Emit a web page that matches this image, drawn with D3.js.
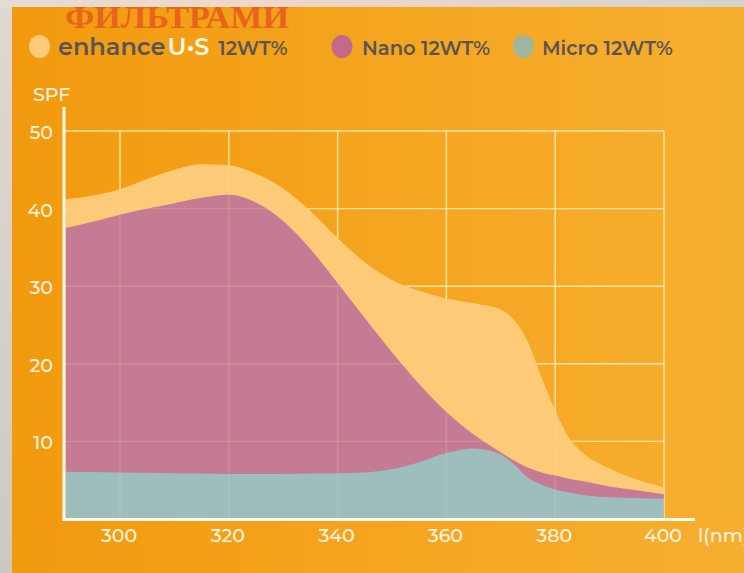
<!DOCTYPE html>
<html><head><meta charset="utf-8">
<script src="https://cdn.jsdelivr.net/npm/d3@7"></script>
<style>html,body{margin:0;padding:0;overflow:hidden;background:#d2cdc7}</style>
</head><body>
<svg id="c" width="744" height="573"></svg>
<script>
const wavelengths = [290,295,300,305,310,315,320,325,330,335,340,345,350,355,360,365,370,372.5,375,377.5,380,382.5,385,390,395,400];
const enhanceSPF = [41.2,41.7,42.5,43.8,45.0,45.7,45.6,44.5,42.6,39.7,36.2,33.1,30.8,29.4,28.4,27.8,27.0,25.6,22.8,18.2,14.0,10.5,8.6,6.5,5.1,4.1];
const nanoSPF    = [37.5,38.3,39.2,40.0,40.7,41.4,41.8,40.8,38.4,34.8,30.4,25.9,21.5,17.4,13.8,10.9,8.6,7.5,6.6,6.0,5.6,5.2,4.9,4.2,3.7,3.2];
const microSPF   = [6.1,6.05,6.0,5.95,5.9,5.85,5.8,5.8,5.8,5.85,5.9,6.0,6.4,7.3,8.5,9.1,8.3,7.0,5.3,4.4,3.8,3.4,3.1,2.8,2.7,2.6];
const xTicks = [300,320,340,360,380,400];
const yTicks = [10,20,30,40,50];
const seriesNames = ["Nano 12WT%","Micro 12WT%"];

const svg = d3.select("#c");
const defs = svg.append("defs");
const bgGrad = defs.append("linearGradient").attr("id","bg").attr("x1","0").attr("x2","1").attr("y1","0").attr("y2","0");
bgGrad.append("stop").attr("offset","0").attr("stop-color","#f29a0e");
bgGrad.append("stop").attr("offset","1").attr("stop-color","#f7af30");
const topGrad = defs.append("linearGradient").attr("id","topg").attr("x1","0").attr("x2","1");
topGrad.append("stop").attr("offset","0").attr("stop-color","#e4dcd4");
topGrad.append("stop").attr("offset","0.35").attr("stop-color","#f0d8c8");
topGrad.append("stop").attr("offset","1").attr("stop-color","#d6d2ce");
const leftGrad = defs.append("linearGradient").attr("id","leftg").attr("x1","0").attr("x2","0").attr("y1","0").attr("y2","1");
leftGrad.append("stop").attr("offset","0").attr("stop-color","#e0d9d2");
leftGrad.append("stop").attr("offset","1").attr("stop-color","#cdc8c2");

svg.append("rect").attr("x",0).attr("y",0).attr("width",744).attr("height",573).attr("fill","url(#leftg)");
svg.append("rect").attr("x",0).attr("y",0).attr("width",744).attr("height",7).attr("fill","url(#topg)");
svg.append("rect").attr("x",12).attr("y",7).attr("width",732).attr("height",566).attr("fill","url(#bg)");

// title
svg.append("text").attr("x",65).attr("y",27.5).attr("font-family","'Liberation Serif', 'DejaVu Serif', serif")
  .attr("font-weight","bold").attr("font-size",32).attr("textLength",224).attr("lengthAdjust","spacingAndGlyphs")
  .attr("fill","#e8631c").text("ФИЛЬТРАМИ");

const x = d3.scaleLinear().domain([290,400]).range([65.6,664]);
const y = d3.scaleLinear().domain([0,50]).range([519,131]);

const gridColor = "#fde3a0";
function drawGrid(g, op){
  g.selectAll(".h").data(yTicks).join("line").attr("class","h").attr("x1",64).attr("x2",664)
    .attr("y1",d=>y(d)).attr("y2",d=>y(d)).attr("stroke",gridColor).attr("stroke-width",1.4).attr("opacity",op);
  g.selectAll(".v").data(xTicks).join("line").attr("class","v").attr("y1",y(50)).attr("y2",519)
    .attr("x1",d=>x(d)).attr("x2",d=>x(d)).attr("stroke",gridColor).attr("stroke-width",1.4).attr("opacity",op);
}
drawGrid(svg.append("g"), 1);

const area = vals => d3.area().x((d,i)=>x(wavelengths[i])).y0(y(0)).y1(d=>y(d)).curve(d3.curveMonotoneX)(vals);
svg.append("path").attr("d",area(enhanceSPF)).attr("fill","#fdca78");
svg.append("path").attr("d",area(nanoSPF)).attr("fill","#c57b94");
svg.append("path").attr("d",area(microSPF)).attr("fill","#9ebdbd");

drawGrid(svg.append("g"), 0.18);

// axes
svg.append("line").attr("x1",64).attr("x2",64).attr("y1",107).attr("y2",520).attr("stroke","#fffaf0").attr("stroke-width",3);
svg.append("line").attr("x1",62.5).attr("x2",695).attr("y1",519.5).attr("y2",519.5).attr("stroke","#fffaf0").attr("stroke-width",3);

const labFont = "Montserrat, 'Noto Sans', sans-serif";
const labColor = "#fff5e1";
svg.selectAll(".yl").data(yTicks).join("text").attr("x",53).attr("y",d=>y(d)+8)
  .attr("text-anchor","end").attr("font-family",labFont).attr("font-weight",500).attr("font-size",19)
  .attr("fill",labColor).text(d=>d);
svg.selectAll(".xl").data(xTicks).join("text").attr("x",d=>x(d)-1).attr("y",542)
  .attr("text-anchor","middle").attr("font-family",labFont).attr("font-weight",500).attr("font-size",19)
  .attr("fill",labColor).text(d=>d);
svg.append("text").attr("x",33).attr("y",101).attr("font-family",labFont).attr("font-weight",500).attr("font-size",19)
  .attr("fill",labColor).text("SPF");
svg.append("text").attr("x",698).attr("y",542).attr("font-family",labFont).attr("font-weight",500).attr("font-size",19)
  .attr("fill",labColor).text("l(nm)");

// legend
const legFont = "Montserrat, 'Noto Sans', sans-serif";
svg.append("ellipse").attr("cx",39.5).attr("cy",46.5).attr("rx",10.5).attr("ry",11.5).attr("fill","#fdca78");
const t1 = svg.append("text").attr("x",58).attr("y",55).attr("font-family",legFont).attr("font-weight",600).attr("font-size",24);
t1.append("tspan").attr("fill","#5a5552").text("enhance");
t1.append("tspan").attr("fill","#fff6e6").attr("dx",2).text("U•S");
t1.append("tspan").attr("fill","#5a5552").attr("font-size",19.5).attr("dx",9).text("12WT%");
svg.append("ellipse").attr("cx",342).attr("cy",46.5).attr("rx",10.5).attr("ry",11.5).attr("fill","#c5698a");
svg.append("text").attr("x",362).attr("y",55).attr("font-family",legFont).attr("font-weight",600).attr("font-size",19.5)
  .attr("fill","#5a5552").text(seriesNames[0]);
svg.append("ellipse").attr("cx",523.5).attr("cy",46.5).attr("rx",10.5).attr("ry",11.5).attr("fill","#a0b59e");
svg.append("text").attr("x",542).attr("y",55).attr("font-family",legFont).attr("font-weight",600).attr("font-size",19.5)
  .attr("fill","#5a5552").text(seriesNames[1]);
</script>
</body></html>
